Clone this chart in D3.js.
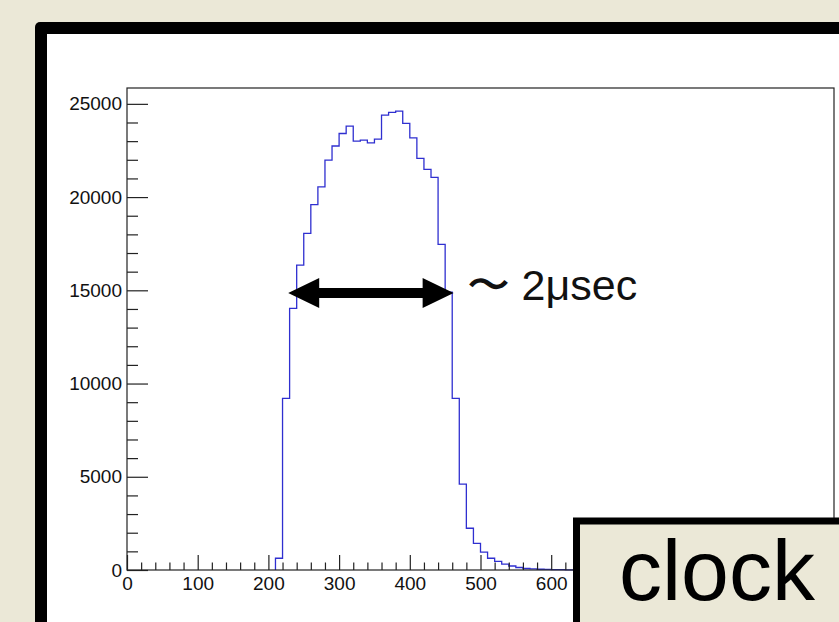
<!DOCTYPE html>
<html>
<head>
<meta charset="utf-8">
<script src="https://cdn.jsdelivr.net/npm/d3@7"></script>
<style>
  body { margin: 0; background: #ebe8d7; }
  svg { display: block; }
  text { font-family: "Liberation Sans", Arial, sans-serif; }
</style>
</head>
<body>
<svg id="chart"></svg>
<script>
// histogram bins (lower edge, width 10) and counts
var binLow = [200, 210, 220, 230, 240, 250, 260, 270, 280, 290,
  300, 310, 320, 330, 340, 350, 360, 370, 380, 390,
  400, 410, 420, 430, 440, 450, 460, 470, 480, 490,
  500, 510, 520, 530, 540, 550, 560, 570, 580, 590,
  600, 610, 620, 630, 640, 650, 660, 670, 680, 690];
var counts = [0, 630, 9200, 14030, 16350, 18050, 19600, 20550, 21980, 22740,
  23410, 23800, 23000, 23050, 22910, 23110, 24400, 24540, 24610, 23950,
  23180, 22080, 21490, 21060, 17460, 14900, 9200, 4610, 2240, 1430,
  960, 630, 460, 320, 215, 135, 80, 55, 40, 30,
  22, 16, 12, 9, 7, 5, 4, 3, 2, 1];
var binWidth = 10;

var xMajor = [0, 100, 200, 300, 400, 500, 600, 700, 800, 900];
var xLabelled = [0, 100, 200, 300, 400, 500, 600];
var yMajor = [0, 5000, 10000, 15000, 20000, 25000];

// width annotation
var arrowFrom = 228;
var arrowTo = 462;
var arrowLevel = 14850;
var noteText = '〜 2μsec';
var boxLabel = 'clock';

var width = 839;
var height = 622;
var svg = d3.select('#chart').attr('width', width).attr('height', height);

// slide frame
svg.append('rect').attr('width', width).attr('height', height).attr('fill', '#ebe8d7');
svg.append('rect')
  .attr('x', 35).attr('y', 22).attr('rx', 5)
  .attr('width', width).attr('height', height)
  .attr('fill', '#000');
svg.append('rect')
  .attr('x', 47).attr('y', 34)
  .attr('width', width).attr('height', height)
  .attr('fill', '#fff');

var xScale = d3.scaleLinear().domain([0, 1000]).range([127, 834]);
var yScale = d3.scaleLinear().domain([0, 25850]).range([570, 88]);

var xMinor = d3.range(0, 1001, 20).filter((v) => v % 100 !== 0);
var yMinor = d3.range(0, 25001, 1000).filter((v) => v % 5000 !== 0);

// histogram outline
var pts = [[binLow[1], 0]];
for (var i = 1; i < binLow.length; i++) {
  pts.push([binLow[i], counts[i]]);
  pts.push([binLow[i] + binWidth, counts[i]]);
}
pts.push([binLow[binLow.length - 1] + binWidth, 0]);

svg.append('path')
  .attr('d', d3.line().x((d) => xScale(d[0])).y((d) => yScale(d[1]))(pts))
  .attr('fill', 'none')
  .attr('stroke', '#2f2fd0')
  .attr('stroke-width', 1.3);

function styleAxis(g) {
  g.selectAll('.domain').remove();
  g.selectAll('line').attr('stroke', '#222').attr('stroke-width', 1.2);
  g.selectAll('text')
    .attr('fill', '#111')
    .attr('font-size', 19)
    .attr('font-family', '"Liberation Sans", Arial, sans-serif');
}

svg.append('g')
  .attr('transform', 'translate(0,570)')
  .call(d3.axisBottom(xScale).tickValues(xMinor).tickSize(-7.5).tickFormat(''))
  .call(styleAxis);
svg.append('g')
  .attr('transform', 'translate(0,570)')
  .call(d3.axisBottom(xScale).tickValues(xMajor).tickSize(-15).tickFormat(''))
  .call(styleAxis);
svg.append('g')
  .attr('transform', 'translate(0,570)')
  .call(d3.axisBottom(xScale).tickValues(xLabelled).tickSize(0).tickPadding(7).tickFormat(d3.format('d')))
  .call(styleAxis);
svg.append('g')
  .attr('transform', 'translate(127,0)')
  .call(d3.axisLeft(yScale).tickValues(yMinor).tickSize(-11).tickFormat(''))
  .call(styleAxis);
svg.append('g')
  .attr('transform', 'translate(127,0)')
  .call(d3.axisLeft(yScale).tickValues(yMajor).tickSize(-21).tickPadding(5).tickFormat(d3.format('d')))
  .call(styleAxis);

// plot frame
svg.append('rect')
  .attr('x', xScale(0)).attr('y', yScale(25850))
  .attr('width', xScale(1000) - xScale(0))
  .attr('height', yScale(0) - yScale(25850))
  .attr('fill', 'none')
  .attr('stroke', '#222')
  .attr('stroke-width', 1.2);

// double-headed arrow
var ax0 = xScale(arrowFrom);
var ax1 = xScale(arrowTo);
var ay = yScale(arrowLevel);
var headL = 31, headH = 15, shaft = 5;
svg.append('path')
  .attr('d', [
    'M', ax0, ay,
    'L', ax0 + headL, ay - headH,
    'L', ax0 + headL, ay - shaft,
    'L', ax1 - headL, ay - shaft,
    'L', ax1 - headL, ay - headH,
    'L', ax1, ay,
    'L', ax1 - headL, ay + headH,
    'L', ax1 - headL, ay + shaft,
    'L', ax0 + headL, ay + shaft,
    'L', ax0 + headL, ay + headH, 'Z'
  ].join(' '))
  .attr('fill', '#000');

svg.append('text')
  .attr('x', ax1 + 13)
  .attr('y', ay + 7)
  .attr('font-size', 43)
  .attr('font-family', '"Liberation Sans", "Noto Sans CJK JP", sans-serif')
  .attr('fill', '#111')
  .text(noteText);

// label box at bottom right
svg.append('rect')
  .attr('x', 576.5).attr('y', 521)
  .attr('width', 300).attr('height', 200)
  .attr('fill', '#ebe8d7')
  .attr('stroke', '#000')
  .attr('stroke-width', 7);
svg.append('text')
  .attr('x', 619)
  .attr('y', 600)
  .attr('font-size', 86)
  .attr('fill', '#000')
  .text(boxLabel);
</script>
</body>
</html>
